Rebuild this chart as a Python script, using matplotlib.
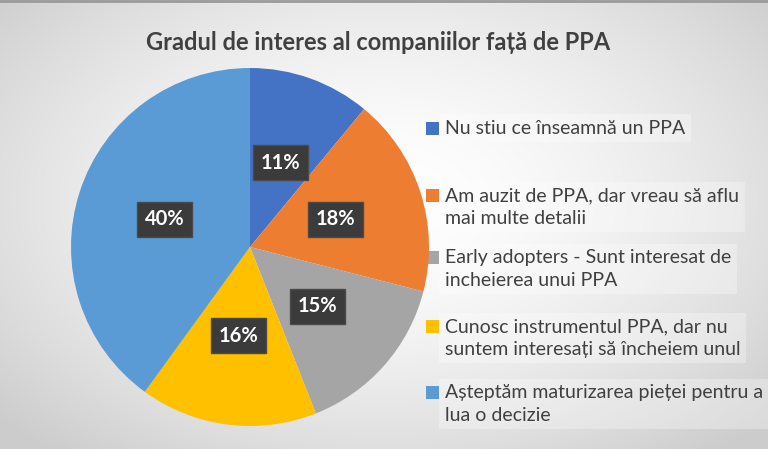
import numpy as np
import matplotlib
matplotlib.use('Agg')
import matplotlib.pyplot as plt
from matplotlib.patches import Rectangle

title = 'Gradul de interes al companiilor față de PPA'
labels = ['Nu stiu ce înseamnă un PPA',
          'Am auzit de PPA, dar vreau să aflu\nmai multe detalii',
          'Early adopters - Sunt interesat de\nincheierea unui PPA',
          'Cunosc instrumentul PPA, dar nu\nsuntem interesați să încheiem unul',
          'Așteptăm maturizarea pieței pentru a\nlua o decizie']
values = [11, 18, 15, 16, 40]
colors = ['#4472C4', '#ED7D31', '#A5A5A5', '#FFC000', '#5B9BD5']

plt.rcParams['font.family'] = ['Lato', 'DejaVu Sans']

W, H = 768, 449
fig = plt.figure(figsize=(W / 100, H / 100), dpi=100)

# background: radial gradient
bg = fig.add_axes([0, 0, 1, 1])
yy, xx = np.mgrid[0:H, 0:W]
r = np.sqrt(((xx - 384) / 520) ** 2 + ((yy - 200) / 330) ** 2)
shade = 1.0 - 0.2 * np.clip(r, 0, 1) ** 1.6
img = np.dstack([shade, shade, shade])
bg.imshow(img, extent=[0, W, H, 0], aspect='auto')
bg.plot([0, W], [1, 1], color='#9a9a9a', lw=2)
bg.set_xlim(0, W)
bg.set_ylim(H, 0)
bg.axis('off')

# pie
cx, cy, rad = 250, 247, 179
ax = fig.add_axes([(cx - rad) / W, (H - cy - rad) / H, 2 * rad / W, 2 * rad / H])
wedges, _ = ax.pie(values, colors=colors, startangle=90, counterclock=False,
                   radius=1.0, wedgeprops=dict(linewidth=0))
ax.set_xlim(-1, 1)
ax.set_ylim(-1, 1)
ax.set_aspect('equal')

start = 90.0
for v in values:
    mid = np.deg2rad(start - v * 3.6 / 2)
    start -= v * 3.6
    ax.text(0.5 * np.cos(mid), 0.5 * np.sin(mid), f'{v}%', ha='center', va='center',
            color='white', fontsize=14.5, fontweight='bold',
            bbox=dict(boxstyle='square,pad=0.38', fc='#3b3b3b', ec='#4a4a4a', lw=1))

# title
fig.text(378 / W, 1 - 42 / H, title, ha='center', va='center', fontsize=17,
         fontweight='bold', color='#404040')

# legend
ys = [128, 207, 269, 338, 404]
for lab, c, y in zip(labels, colors, ys):
    fig.text(445 / W, 1 - y / H, lab, ha='left', va='center', fontsize=14,
             color='#404040', linespacing=1.38,
             bbox=dict(boxstyle='square,pad=0.3', fc='white', ec='none', alpha=0.3))
    first = y if '\n' not in lab else y - 12
    bg.add_patch(Rectangle((426, first - 6.5), 13, 13, fc=c, ec='none'))

fig.savefig('out.png', dpi=100)
